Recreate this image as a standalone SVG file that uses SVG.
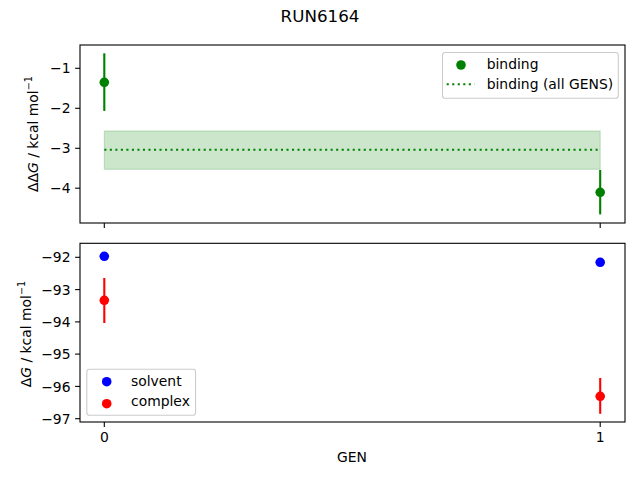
<svg xmlns="http://www.w3.org/2000/svg" width="640" height="480" viewBox="0 0 640 480">
<style>
text{font-family:"DejaVu Sans","Liberation Sans",sans-serif;fill:#000}
.tk{font-size:13.9px}
.ytk{font-size:13.9px;text-anchor:end}
.xtk{font-size:13.9px;text-anchor:middle}
.spine{fill:none;stroke:#000;stroke-width:1.1}
.tick{stroke:#000;stroke-width:1.1}
.eb{stroke-width:2.1;fill:none}
.leg{fill:#fff;fill-opacity:0.8;stroke:#ccc;stroke-width:1.1}
</style>
<rect width="640" height="480" fill="#fff"/>
<text id="title" x="320" y="22.3" text-anchor="middle" style="font-size:16.7px">RUN6164</text>

<g id="top-axes">
  <rect class="spine" x="80" y="45" width="545" height="178"/>
  <g id="top-yticks">
    <line class="tick" x1="75.1" y1="68.3" x2="80" y2="68.3"/>
    <line class="tick" x1="75.1" y1="108.3" x2="80" y2="108.3"/>
    <line class="tick" x1="75.1" y1="148.3" x2="80" y2="148.3"/>
    <line class="tick" x1="75.1" y1="188.2" x2="80" y2="188.2"/>
    <text class="ytk" x="70.5" y="73.4">−1</text>
    <text class="ytk" x="70.5" y="113.4">−2</text>
    <text class="ytk" x="70.5" y="153.4">−3</text>
    <text class="ytk" x="70.5" y="193.3">−4</text>
  </g>
  <g id="top-xticks">
    <line class="tick" x1="104.3" y1="223" x2="104.3" y2="227.9"/>
    <line class="tick" x1="600.2" y1="223" x2="600.2" y2="227.9"/>
  </g>
  <text id="top-ylabel" transform="translate(37.5,134) rotate(-90)" text-anchor="middle" style="font-size:13.9px">ΔΔ<tspan font-style="italic">G</tspan> / kcal mol<tspan font-size="9.7px" dy="-5.5">−1</tspan></text>
  <g id="band">
    <rect x="104.3" y="131" width="495.9" height="38.3" fill="#008000" fill-opacity="0.2" stroke="#008000" stroke-opacity="0.2" stroke-width="1.1"/>
    <line x1="104.3" y1="149.7" x2="600.2" y2="149.7" stroke="#008000" stroke-width="2.1" stroke-dasharray="2.08 3.44"/>
  </g>
  <g id="binding-points">
    <line class="eb" stroke="#008000" x1="104.3" y1="53.3" x2="104.3" y2="110.9"/>
    <circle cx="104.3" cy="82.3" r="4.8" fill="#008000"/>
    <line class="eb" stroke="#008000" x1="600.2" y1="170" x2="600.2" y2="214.4"/>
    <circle cx="600.2" cy="192.3" r="4.8" fill="#008000"/>
  </g>
  <g id="top-legend">
    <rect class="leg" x="442.5" y="52.5" width="175.8" height="45.8" rx="2.8"/>
    <circle cx="461" cy="65" r="4.8" fill="#008000"/>
    <text class="tk" x="486.7" y="69.3">binding</text>
    <line x1="446.7" y1="84.3" x2="474.5" y2="84.3" stroke="#008000" stroke-width="2.1" stroke-dasharray="2.08 3.44"/>
    <text class="tk" x="486.7" y="89.2">binding (all GENS)</text>
  </g>
</g>

<g id="bottom-axes">
  <rect class="spine" x="80" y="243.3" width="545" height="178.7"/>
  <g id="bottom-yticks">
    <line class="tick" x1="75.1" y1="257.3" x2="80" y2="257.3"/>
    <line class="tick" x1="75.1" y1="289.6" x2="80" y2="289.6"/>
    <line class="tick" x1="75.1" y1="321.9" x2="80" y2="321.9"/>
    <line class="tick" x1="75.1" y1="354.1" x2="80" y2="354.1"/>
    <line class="tick" x1="75.1" y1="386.4" x2="80" y2="386.4"/>
    <line class="tick" x1="75.1" y1="418.7" x2="80" y2="418.7"/>
    <text class="ytk" x="70.5" y="262.4">−92</text>
    <text class="ytk" x="70.5" y="294.7">−93</text>
    <text class="ytk" x="70.5" y="327">−94</text>
    <text class="ytk" x="70.5" y="359.2">−95</text>
    <text class="ytk" x="70.5" y="391.5">−96</text>
    <text class="ytk" x="70.5" y="423.8">−97</text>
  </g>
  <g id="bottom-xticks">
    <line class="tick" x1="104.3" y1="422" x2="104.3" y2="426.9"/>
    <line class="tick" x1="600.2" y1="422" x2="600.2" y2="426.9"/>
    <text class="xtk" x="104.3" y="441.7">0</text>
    <text class="xtk" x="600.2" y="441.7">1</text>
  </g>
  <text id="xlabel" x="352" y="462.3" text-anchor="middle" style="font-size:13.9px">GEN</text>
  <text id="bottom-ylabel" transform="translate(30.5,334) rotate(-90)" text-anchor="middle" style="font-size:13.9px">Δ<tspan font-style="italic">G</tspan> / kcal mol<tspan font-size="9.7px" dy="-5.5">−1</tspan></text>
  <g id="solvent-points">
    <circle cx="104.3" cy="256.3" r="4.8" fill="#0000ff"/>
    <circle cx="600.2" cy="262.3" r="4.8" fill="#0000ff"/>
  </g>
  <g id="complex-points">
    <line class="eb" stroke="#ff0000" x1="104.3" y1="278" x2="104.3" y2="323"/>
    <circle cx="104.3" cy="300.3" r="4.8" fill="#ff0000"/>
    <line class="eb" stroke="#ff0000" x1="600.2" y1="378" x2="600.2" y2="413.8"/>
    <circle cx="600.2" cy="396.3" r="4.8" fill="#ff0000"/>
  </g>
  <g id="bottom-legend">
    <rect class="leg" x="86.8" y="369.3" width="108.8" height="46" rx="2.8"/>
    <circle cx="106.7" cy="381.7" r="4.8" fill="#0000ff"/>
    <text class="tk" x="131" y="385.6">solvent</text>
    <circle cx="106.7" cy="403.7" r="4.8" fill="#ff0000"/>
    <text class="tk" x="131" y="405.6">complex</text>
  </g>
</g>
</svg>
